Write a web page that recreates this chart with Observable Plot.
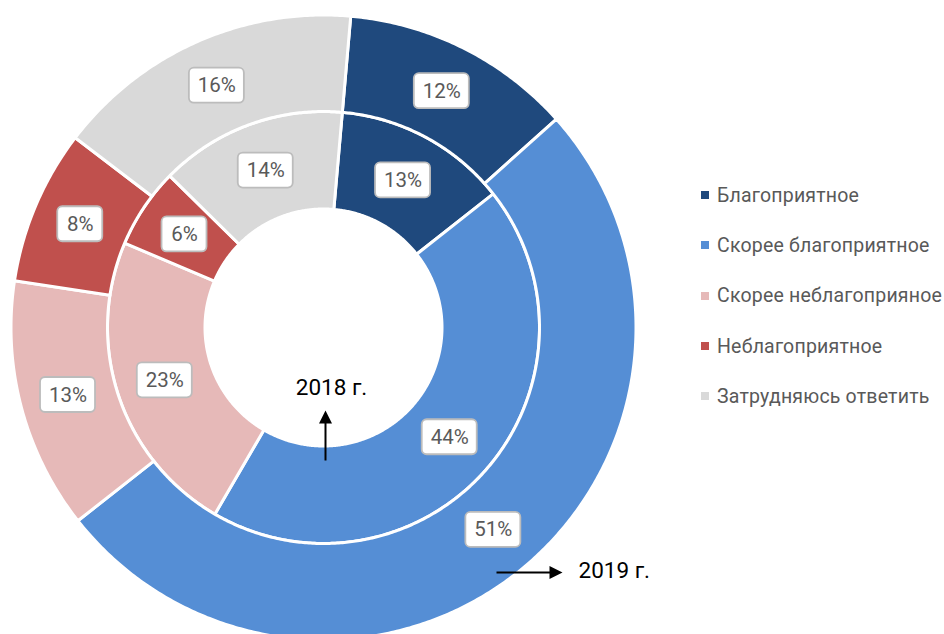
<!DOCTYPE html>
<html><head><meta charset="utf-8">
<script src="https://cdn.jsdelivr.net/npm/d3@7"></script>
<script src="https://cdn.jsdelivr.net/npm/@observablehq/plot@0.6"></script>
<style>
html,body{margin:0;padding:0;background:#fff;overflow:hidden;}
#wrap{position:relative;width:944px;height:634px;overflow:hidden;}
#chart{position:absolute;left:0;top:0;}
#legend{position:absolute;left:701px;top:170px;font-family:Roboto,sans-serif;font-size:19.5px;color:#595959;letter-spacing:0.2px;}
.item{height:50.3px;display:flex;align-items:center;white-space:nowrap;}
.sw{width:8px;height:8px;margin-right:8px;flex:none;}
</style></head><body>
<div id="wrap"><div id="chart"></div><div id="legend"></div></div>
<script>
// ---- data ----
const categories = ["Благоприятное", "Скорее благоприятное", "Скорее неблагоприяное", "Неблагоприятное", "Затрудняюсь ответить"];
const values2018 = [13, 44, 23, 6, 14];   // inner ring
const values2019 = [12, 51, 13, 8, 16];   // outer ring
const colors = ["#1f497d", "#558ed5", "#e6b9b8", "#c0504d", "#d9d9d9"];
const yearLabels = ["2018 г.", "2019 г."];
// annotation anchors (chart units: px from the centre, y up)
const arrowStart = [[2, -133], [173, -245]];
const arrowTip = [[2, -83], [239, -245]];
const yearLabelPos = [[8, -60, "middle"], [255, -243, "start"]];

// ---- geometry ----
const startAngle = 5;           // degrees, clockwise from north
const rHole = 118.5, rMid = 216, rOuter = 312.5;
const rad = a => a * Math.PI / 180;

function ring(values, r0, r1, name) {
  const total = d3.sum(values);
  let acc = 0;
  return values.map((v, i) => {
    const a0 = startAngle + acc / total * 360; acc += v;
    const a1 = startAngle + acc / total * 360;
    return {id: name + i, category: categories[i], value: v, a0, a1, r0, r1};
  });
}
const slices = [...ring(values2018, rHole, rMid, "in"), ...ring(values2019, rMid, rOuter, "out")];

const pts = [];
for (const s of slices) {
  const n = Math.max(2, Math.ceil((s.a1 - s.a0) / 0.5));
  const poly = [];
  for (let k = 0; k <= n; k++) { const a = rad(s.a0 + (s.a1 - s.a0) * k / n); poly.push([s.r1 * Math.sin(a), s.r1 * Math.cos(a)]); }
  for (let k = n; k >= 0; k--) { const a = rad(s.a0 + (s.a1 - s.a0) * k / n); poly.push([s.r0 * Math.sin(a), s.r0 * Math.cos(a)]); }
  poly.push(poly[0]);
  for (const [x, y] of poly) pts.push({id: s.id, category: s.category, x, y});
}

const labels = slices.map(s => {
  const a = rad((s.a0 + s.a1) / 2), r = (s.r0 + s.r1) / 2;
  const text = s.value + "%";
  const w = text.length > 2 ? 55 : 45;
  return {x: r * Math.sin(a), y: r * Math.cos(a), text, w, h: 35};
});

const arrows = arrowStart.map((p, i) => {
  const [x1, y1] = p, [x2, y2] = arrowTip[i];
  const len = Math.hypot(x2 - x1, y2 - y1), ux = (x2 - x1) / len, uy = (y2 - y1) / len;
  const bx = x2 - ux * 13, by = y2 - uy * 13;
  return {x1, y1, x2: bx + ux, y2: by + uy, tri: [[x2, y2], [bx - uy * 6.5, by + ux * 6.5], [bx + uy * 6.5, by - ux * 6.5], [x2, y2]]};
});
const triPts = arrows.flatMap((a, i) => a.tri.map(([x, y]) => ({id: i, x, y})));
const years = yearLabels.map((t, i) => ({text: t, x: yearLabelPos[i][0], y: yearLabelPos[i][1], anchor: yearLabelPos[i][2]}));

const plot = Plot.plot({
  width: 650, height: 634, margin: 0,
  x: {domain: [-323, 327], axis: null},
  y: {domain: [-307, 327], axis: null},
  color: {domain: categories, range: colors},
  style: {fontFamily: "Roboto, sans-serif", background: "white"},
  marks: [
    Plot.line(pts, {x: "x", y: "y", z: "id", fill: "category", stroke: "white", strokeWidth: 3, curve: "linear"}),
    Plot.rect(labels, {x1: d => d.x - d.w / 2, x2: d => d.x + d.w / 2, y1: d => d.y - d.h / 2, y2: d => d.y + d.h / 2, rx: 5, fill: "white", stroke: "#bcbcbc", strokeWidth: 1.8}),
    Plot.text(labels, {x: "x", y: "y", text: "text", fill: "#595959", fontSize: 20.5}),
    Plot.link(arrows, {x1: "x1", y1: "y1", x2: "x2", y2: "y2", stroke: "black", strokeWidth: 2}),
    Plot.line(triPts, {x: "x", y: "y", z: "id", fill: "black", stroke: "none"}),
    Plot.text(years.filter(d => d.anchor === "middle"), {x: "x", y: "y", text: "text", fill: "black", fontSize: 22.5, textAnchor: "middle"}),
    Plot.text(years.filter(d => d.anchor === "start"), {x: "x", y: "y", text: "text", fill: "black", fontSize: 22.5, textAnchor: "start"})
  ]
});
document.getElementById("chart").appendChild(plot);

const color = plot.scale("color");
const legend = document.getElementById("legend");
categories.forEach((c, i) => {
  const item = document.createElement("div"); item.className = "item";
  const sw = document.createElement("span"); sw.className = "sw"; sw.style.background = color.range[i];
  const t = document.createElement("span"); t.textContent = c;
  item.appendChild(sw); item.appendChild(t); legend.appendChild(item);
});
</script>
</body></html>
